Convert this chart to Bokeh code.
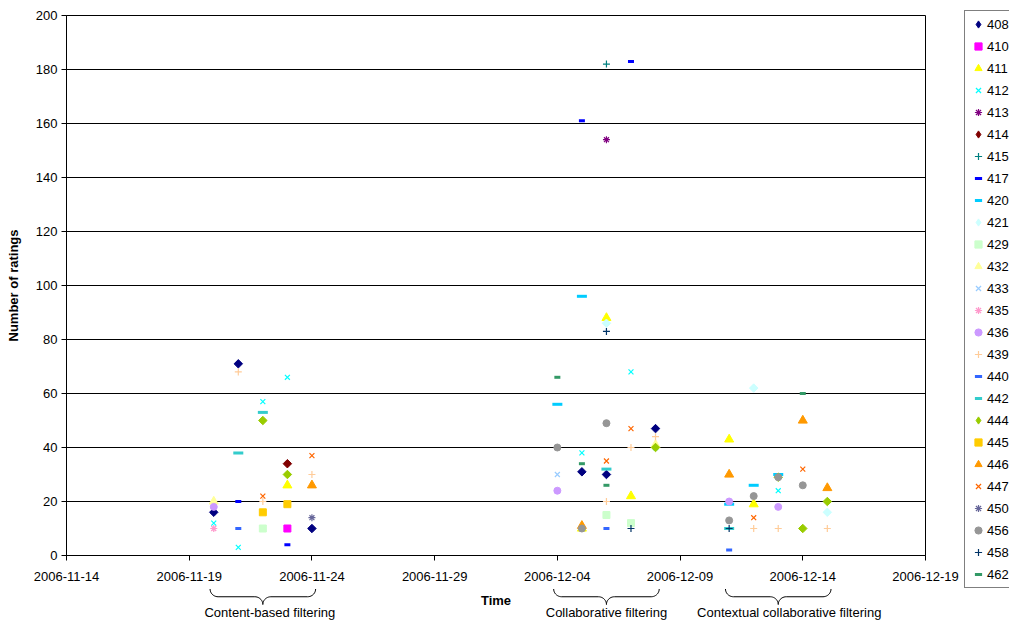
import numpy as np
import pandas as pd
from bokeh.plotting import figure
from bokeh.layouts import column, row
from bokeh.models import (Legend, LegendItem, FixedTicker, DatetimeTickFormatter,
                          Label, Range1d)
from bokeh.embed import file_html
from bokeh.resources import INLINE

# ---------------- data ----------------
series = ["408", "410", "411", "412", "413", "414", "415", "417", "420", "421", "429",
          "432", "433", "435", "436", "439", "440", "442", "444", "445", "446", "447",
          "450", "456", "458", "462"]

d408 = ["2006-11-20", "2006-11-21", "2006-11-24", "2006-12-05", "2006-12-06", "2006-12-08"]
y408 = [16, 71, 10, 31, 30, 47]
d410 = ["2006-11-23"]
y410 = [10]
d411 = ["2006-11-23", "2006-12-05", "2006-12-06", "2006-12-07", "2006-12-11", "2006-12-12"]
y411 = [26, 10, 88, 22, 43, 19]
d412 = ["2006-11-20", "2006-11-21", "2006-11-22", "2006-11-23", "2006-12-05", "2006-12-07", "2006-12-08", "2006-12-13"]
y412 = [12, 3, 57, 66, 38, 68, 40, 24]
d413 = ["2006-12-06"]
y413 = [154]
d414 = ["2006-11-23"]
y414 = [34]
d415 = ["2006-12-06"]
y415 = [182]
d417 = ["2006-11-21", "2006-11-23", "2006-12-05", "2006-12-07"]
y417 = [20, 4, 161, 183]
d420 = ["2006-12-04", "2006-12-05", "2006-12-11", "2006-12-12", "2006-12-13"]
y420 = [56, 96, 19, 26, 30]
d421 = ["2006-12-06", "2006-12-12", "2006-12-15"]
y421 = [86, 62, 16]
d429 = ["2006-11-22", "2006-12-06", "2006-12-07"]
y429 = [10, 15, 12]
d432 = ["2006-11-20", "2006-12-08"]
y432 = [20, 41]
d433 = ["2006-12-04"]
y433 = [30]
d435 = ["2006-11-20"]
y435 = [10]
d436 = ["2006-11-20", "2006-12-04", "2006-12-11", "2006-12-13"]
y436 = [18, 24, 20, 18]
d439 = ["2006-11-21", "2006-11-22", "2006-11-24", "2006-12-06", "2006-12-07", "2006-12-08",
        "2006-12-12", "2006-12-13", "2006-12-15"]
y439 = [68, 20, 30, 20, 40, 44, 10, 10, 10]
d440 = ["2006-11-21", "2006-12-06", "2006-12-11"]
y440 = [10, 10, 2]
d442 = ["2006-11-21", "2006-11-22", "2006-12-06", "2006-12-11"]
y442 = [38, 53, 32, 10]
d444 = ["2006-11-22", "2006-11-23", "2006-12-08", "2006-12-13", "2006-12-14", "2006-12-15"]
y444 = [50, 30, 40, 29, 10, 20]
d445 = ["2006-11-22", "2006-11-23"]
y445 = [16, 19]
d446 = ["2006-11-24", "2006-12-05", "2006-12-11", "2006-12-14", "2006-12-15"]
y446 = [26, 11, 30, 50, 25]
d447 = ["2006-11-22", "2006-11-24", "2006-12-06", "2006-12-07", "2006-12-12", "2006-12-14"]
y447 = [22, 37, 35, 47, 14, 32]
d450 = ["2006-11-24"]
y450 = [14]
d456 = ["2006-12-04", "2006-12-05", "2006-12-06", "2006-12-11", "2006-12-12", "2006-12-13", "2006-12-14"]
y456 = [40, 10, 49, 13, 22, 29, 26]
d458 = ["2006-12-06", "2006-12-07", "2006-12-11"]
y458 = [83, 10, 10]
d462 = ["2006-12-04", "2006-12-05", "2006-12-06", "2006-12-14"]
y462 = [66, 34, 26, 60]

x_start, x_end = "2006-11-14", "2006-12-19"
tick_dates = ["2006-11-14", "2006-11-19", "2006-11-24", "2006-11-29",
              "2006-12-04", "2006-12-09", "2006-12-14", "2006-12-19"]
y_ticks = [0, 20, 40, 60, 80, 100, 120, 140, 160, 180, 200]

group_names = ["Content-based filtering", "Collaborative filtering",
               "Contextual collaborative filtering"]
group_start = ["2006-11-20", "2006-12-04", "2006-12-11"]
group_end = ["2006-11-24", "2006-12-08", "2006-12-15"]

data = {
    "408": (d408, y408), "410": (d410, y410), "411": (d411, y411), "412": (d412, y412),
    "413": (d413, y413), "414": (d414, y414), "415": (d415, y415), "417": (d417, y417),
    "420": (d420, y420), "421": (d421, y421), "429": (d429, y429), "432": (d432, y432),
    "433": (d433, y433), "435": (d435, y435), "436": (d436, y436), "439": (d439, y439),
    "440": (d440, y440), "442": (d442, y442), "444": (d444, y444), "445": (d445, y445),
    "446": (d446, y446), "447": (d447, y447), "450": (d450, y450), "456": (d456, y456),
    "458": (d458, y458), "462": (d462, y462),
}

# ---------------- styles ----------------
styles = {
    "408": ("diamond", "#000080"), "410": ("square", "#FF00FF"), "411": ("triangle", "#FFFF00"),
    "412": ("x", "#00FFFF"), "413": ("asterisk", "#800080"), "414": ("diamond", "#800000"),
    "415": ("cross", "#008080"), "417": ("dash", "#0000FF"), "420": ("longdash", "#00CCFF"),
    "421": ("diamond", "#CCFFFF"), "429": ("square", "#CCFFCC"), "432": ("triangle", "#FFFF99"),
    "433": ("x", "#99CCFF"), "435": ("asterisk", "#FF99CC"), "436": ("circle", "#CC99FF"),
    "439": ("cross", "#FFCC99"), "440": ("dash", "#3366FF"), "442": ("longdash", "#33CCCC"),
    "444": ("diamond", "#99CC00"), "445": ("square", "#FFCC00"), "446": ("triangle", "#FF9900"),
    "447": ("x", "#FF6600"), "450": ("asterisk", "#666699"), "456": ("circle", "#969696"),
    "458": ("cross", "#003366"), "462": ("dash", "#339966"),
}

FONT = "Liberation Sans"
W_MAIN, W_LEG = 960, 49
H1, H2 = 588, 36
BL, BR, BT, BB = 66, 35, 15, 33
frame_w = W_MAIN - BL - BR


def ms(s):
    return pd.Timestamp(s).value / 1e6


DAY = 86400000.0
x0, x1 = ms(x_start), ms(x_end)
px_per_day = frame_w / ((x1 - x0) / DAY)

p = figure(width=W_MAIN, height=H1, x_axis_type="datetime", output_backend="svg",
           toolbar_location=None, x_range=Range1d(x0, x1), y_range=Range1d(0, 200),
           min_border_left=BL, min_border_right=BR, min_border_top=BT, min_border_bottom=BB)
p.background_fill_color = "white"
p.border_fill_color = "white"
p.outline_line_color = "black"
p.outline_line_width = 1

p.xgrid.visible = False
p.ygrid.ticker = FixedTicker(ticks=y_ticks)
p.ygrid.grid_line_color = "black"
p.ygrid.grid_line_width = 1

p.yaxis.ticker = FixedTicker(ticks=y_ticks)
p.xaxis.ticker = FixedTicker(ticks=[ms(t) for t in tick_dates])
fmt = "%Y-%m-%d"
p.xaxis.formatter = DatetimeTickFormatter(days=fmt, months=fmt, years=fmt, hours=fmt,
                                          hourmin=fmt, minutes=fmt, minsec=fmt,
                                          seconds=fmt, milliseconds=fmt, microseconds=fmt)

for ax in (p.xaxis[0], p.yaxis[0]):
    ax.axis_line_color = "black"
    ax.major_tick_line_color = "black"
    ax.minor_tick_line_color = None
    ax.major_tick_in = 0
    ax.major_tick_out = 5
    ax.major_label_text_font = FONT
    ax.major_label_text_font_size = "13px"
    ax.major_label_text_color = "black"
    ax.axis_label_text_font = FONT
    ax.axis_label_text_font_size = "13px"
    ax.axis_label_text_font_style = "bold"
    ax.axis_label_text_color = "black"

p.xaxis.major_label_standoff = 11
p.yaxis.axis_label = "Number of ratings"
p.yaxis.major_label_standoff = 4
p.yaxis.axis_label_standoff = 12


def draw(fig, xs, ys, marker, color, legend_glyph=False):
    kw = dict(fill_color=color, line_color=color)
    if marker == "diamond":
        if legend_glyph:
            return fig.scatter(xs, ys, marker="diamond", size=9, line_width=1, **kw)
        return fig.scatter(xs, ys, marker="square", size=6, angle=np.pi / 4, line_width=1, **kw)
    if marker == "square":
        return fig.scatter(xs, ys, marker="square", size=7, line_width=1, **kw)
    if marker == "triangle":
        return fig.scatter(xs, ys, marker="triangle", size=9, line_width=1, **kw)
    if marker == "circle":
        return fig.scatter(xs, ys, marker="circle", size=7, line_width=1, **kw)
    if marker in ("x", "asterisk", "cross"):
        return fig.scatter(xs, ys, marker=marker, size=7, line_width=1.2, **kw)
    if marker == "dash":
        return fig.scatter(xs, ys, marker="dash", size=6, line_width=3, **kw)
    return fig.scatter(xs, ys, marker="dash", size=10, line_width=3, **kw)


for name in series:
    dates, vals = data[name]
    marker, color = styles[name]
    draw(p, [ms(d) for d in dates], vals, marker, color)

# ---------------- strip below the axis: braces, group names, axis title ----------------
p2 = figure(width=W_MAIN, height=H2, output_backend="svg", toolbar_location=None,
            x_range=p.x_range, y_range=Range1d(H2, 0),
            x_axis_location=None, y_axis_location=None,
            min_border_left=BL, min_border_right=BR, min_border_top=0, min_border_bottom=0)
p2.outline_line_color = None
p2.xgrid.visible = False
p2.ygrid.visible = False
p2.background_fill_color = "white"
p2.border_fill_color = "white"

brace_top, brace_tip, brace_r = 0.5, 16, 8
label_y = 24
title_y = 12
label_shift = [7, 0, 11]
rx = brace_r / px_per_day * DAY
t = np.linspace(0, np.pi / 2, 12)

for gname, gs, ge, shift in zip(group_names, group_start, group_end, label_shift):
    xa = ms(gs) - 0.15 * DAY
    xb = ms(ge) + 0.15 * DAY
    xc = (xa + xb) / 2
    yt, yb = brace_top, brace_tip
    ry = (yb - yt) / 2
    bx, by = [], []
    bx += list(xa + rx - rx * np.cos(t)); by += list(yt + ry * np.sin(t))
    bx += list(xc - rx + rx * np.sin(t)); by += list(yb - ry * np.cos(t))
    bx += list(xc + rx - rx * np.cos(t)); by += list(yb - ry * np.sin(t))
    bx += list(xb - rx + rx * np.sin(t)); by += list(yt + ry * np.cos(t))
    p2.line(bx, by, line_color="black", line_width=1)
    p2.add_layout(Label(x=xc, y=label_y, text=gname, x_offset=shift,
                        text_align="center", text_baseline="middle", text_font=FONT,
                        text_font_size="13px", text_color="black"))

p2.add_layout(Label(x=(x0 + x1) / 2, y=title_y, text="Time", text_align="center",
                    text_baseline="middle", text_font=FONT, text_font_size="13px",
                    text_font_style="bold", text_color="black"))

# ---------------- legend panel on the right ----------------
H_ALL = H1 + H2
p3 = figure(width=W_LEG, height=H_ALL, output_backend="svg", toolbar_location=None,
            x_range=Range1d(0, 1), y_range=Range1d(0, 1),
            x_axis_location=None, y_axis_location=None,
            min_border_left=0, min_border_right=0, min_border_top=0, min_border_bottom=0)
p3.outline_line_color = None
p3.xgrid.visible = False
p3.ygrid.visible = False
p3.background_fill_color = "white"
p3.border_fill_color = "white"

items = []
for name in series:
    marker, color = styles[name]
    # legend-only renderer: a single NaN point, so nothing is drawn in the panel itself
    r = draw(p3, [np.nan], [np.nan], marker, color, legend_glyph=True)
    items.append(LegendItem(label=name, renderers=[r]))

LEG_LEFT, LEG_TOP, LEG_H = 964, 12, 576
legend = Legend(items=items, location=(LEG_LEFT - W_MAIN, H_ALL - (LEG_TOP + LEG_H)),
                orientation="vertical",
                border_line_color="black", border_line_width=1,
                background_fill_color="white", background_fill_alpha=1,
                label_text_font=FONT, label_text_font_size="13px", label_text_color="black",
                glyph_width=18, glyph_height=18, label_height=18, label_standoff=0,
                spacing=4, padding=4, margin=0)
p3.add_layout(legend)

layout = row(column(p, p2, spacing=0), p3, spacing=0)
open("out.html", "w").write(file_html(layout, INLINE))
